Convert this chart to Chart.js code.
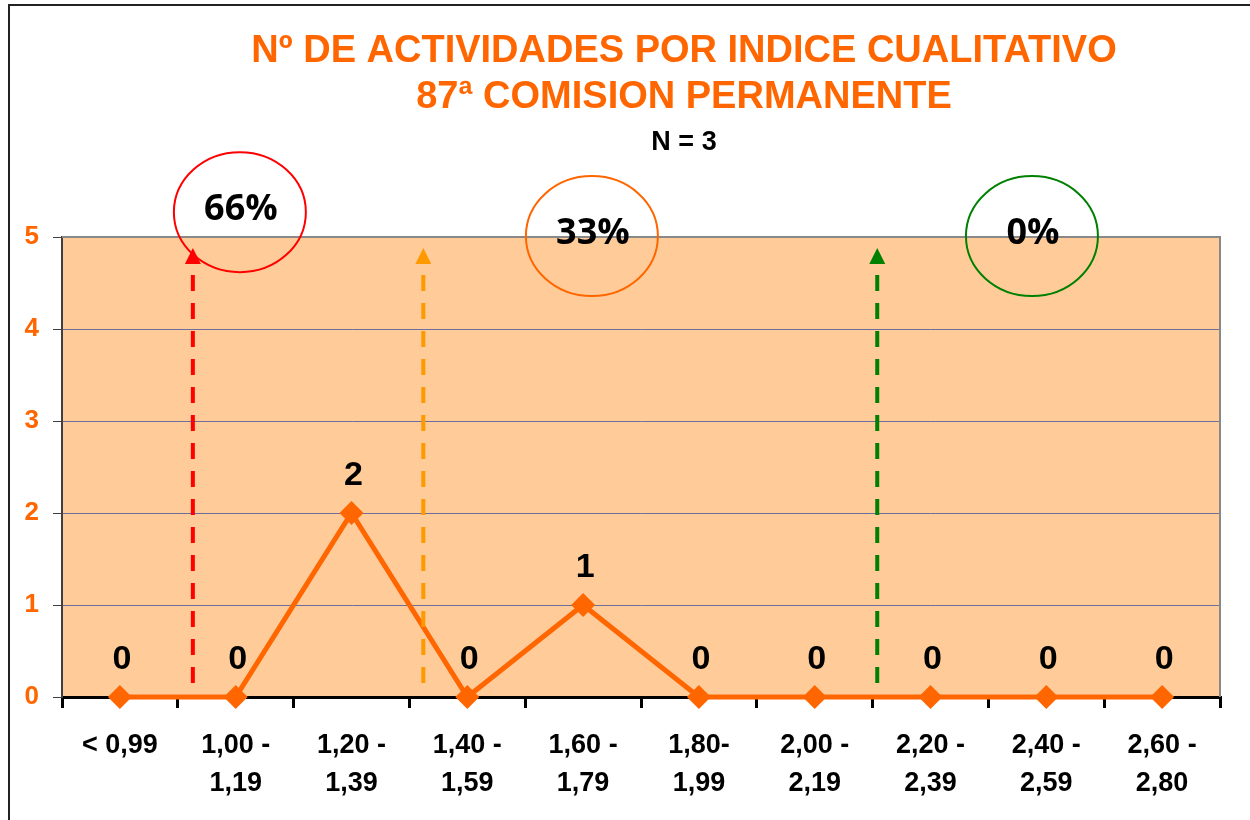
<!DOCTYPE html>
<html>
<head>
<meta charset="utf-8">
<script src="https://cdn.jsdelivr.net/npm/chart.js@4/dist/chart.umd.min.js"></script>
<style>
  html, body { margin: 0; padding: 0; background: #fff; }
  #wrap { width: 1250px; height: 820px; }
</style>
</head>
<body>
<div id="wrap"><canvas id="chart" width="1250" height="820"></canvas></div>
<script>
// datos
const titleLines = ["Nº DE ACTIVIDADES POR INDICE CUALITATIVO", "87ª COMISION PERMANENTE"];
const subtitle = "N = 3";
const categories = [
  "< 0,99",
  ["1,00 -", "1,19"],
  ["1,20 -", "1,39"],
  ["1,40 -", "1,59"],
  ["1,60 -", "1,79"],
  ["1,80-", "1,99"],
  ["2,00 -", "2,19"],
  ["2,20 -", "2,39"],
  ["2,40 -", "2,59"],
  ["2,60 -", "2,80"]
];
const activityCounts = [0, 0, 2, 0, 1, 0, 0, 0, 0, 0];
const yMin = 0;
const yMax = 5;
const bandShares = ["66%", "33%", "0%"];

const ORANGE = "#FF6600";
const FONT = "'Liberation Sans', Arial, sans-serif";

// flechas y circulos (posicion en unidades de los ejes)
const arrows = [
  { x: 0.63, color: "#FF0000" },
  { x: 2.62, color: "#FF9900" },
  { x: 6.54, color: "#008000" }
];
const bubbles = [
  { x: 1.036, y: 5.27, color: "#FF0000" },
  { x: 4.076, y: 5.01, color: "#FF6600" },
  { x: 7.876, y: 5.01, color: "#008000" }
];

const overlay = {
  id: "overlay",
  beforeDraw(chart) {
    const { ctx, chartArea: a } = chart;
    ctx.save();
    ctx.fillStyle = "#fff";
    ctx.fillRect(0, 0, chart.width, chart.height);
    ctx.fillStyle = "#FFCC99";
    ctx.fillRect(a.left, a.top, a.right - a.left, a.bottom - a.top);
    ctx.restore();
  },
  afterDraw(chart) {
    const { ctx, chartArea: a } = chart;
    const xs = chart.scales.x, ys = chart.scales.y;
    ctx.save();

    // borde gris superior y derecho del area
    ctx.strokeStyle = "#888";
    ctx.lineWidth = 2;
    ctx.beginPath();
    ctx.moveTo(a.left, a.top);
    ctx.lineTo(a.right, a.top);
    ctx.lineTo(a.right, a.bottom);
    ctx.stroke();

    // etiquetas de datos
    const meta = chart.getDatasetMeta(0);
    ctx.fillStyle = "#000";
    ctx.font = "bold 34px " + FONT;
    ctx.textAlign = "center";
    ctx.textBaseline = "alphabetic";
    meta.data.forEach((pt, i) => {
      ctx.fillText(String(activityCounts[i]), pt.x + 2, pt.y - 28);
    });

    // flechas discontinuas
    arrows.forEach(ar => {
      const x = xs.getPixelForValue(ar.x);
      const tip = ys.getPixelForValue(4.88);
      const bottom = ys.getPixelForValue(0.13);
      ctx.strokeStyle = ar.color;
      ctx.fillStyle = ar.color;
      ctx.lineWidth = 4;
      ctx.setLineDash([16, 12]);
      ctx.beginPath();
      ctx.moveTo(x, tip + 27);
      ctx.lineTo(x, bottom);
      ctx.stroke();
      ctx.setLineDash([]);
      ctx.beginPath();
      ctx.moveTo(x, tip);
      ctx.lineTo(x - 8, tip + 16);
      ctx.lineTo(x + 8, tip + 16);
      ctx.closePath();
      ctx.fill();
    });

    // circulos con porcentajes
    bubbles.forEach((b, i) => {
      const cx = xs.getPixelForValue(b.x);
      const cy = ys.getPixelForValue(b.y);
      ctx.strokeStyle = b.color;
      ctx.lineWidth = 2;
      ctx.beginPath();
      ctx.ellipse(cx, cy, 66, 60, 0, 0, Math.PI * 2);
      ctx.stroke();
      ctx.fillStyle = "#000";
      ctx.font = "bold 36px 'Open Sans', sans-serif";
      ctx.fillText(bandShares[i], cx + 1, cy + 8);
    });

    // titulo
    ctx.fillStyle = ORANGE;
    ctx.font = "bold 38px " + FONT;
    ctx.fillText(titleLines[0], 684, 62);
    ctx.fillText(titleLines[1], 684, 108);
    ctx.fillStyle = "#000";
    ctx.font = "bold 27px " + FONT;
    ctx.fillText(subtitle, 684, 150);

    // marco exterior
    ctx.strokeStyle = "#222";
    ctx.lineWidth = 2;
    ctx.beginPath();
    ctx.moveTo(9, chart.height);
    ctx.lineTo(9, 5);
    ctx.lineTo(chart.width, 5);
    ctx.stroke();
    ctx.restore();
  }
};

const chart = new Chart(document.getElementById("chart"), {
  type: "line",
  data: {
    labels: categories,
    datasets: [{
      data: activityCounts,
      borderColor: ORANGE,
      backgroundColor: ORANGE,
      borderWidth: 5,
      pointStyle: "rectRot",
      pointRadius: 12,
      pointHoverRadius: 12,
      pointBackgroundColor: ORANGE,
      pointBorderWidth: 0,
      tension: 0,
      clip: false
    }]
  },
  options: {
    responsive: false,
    animation: false,
    events: [],
    layout: { padding: { left: 0, right: 30, top: 237, bottom: 0 } },
    plugins: {
      legend: { display: false },
      tooltip: { enabled: false },
      title: { display: false }
    },
    scales: {
      x: {
        type: "category",
        offset: true,
        afterFit(scale) { scale.height = 123; },
        grid: {
          offset: true,
          drawOnChartArea: false,
          drawTicks: true,
          tickLength: 11,
          color: "#000",
          lineWidth: 3
        },
        border: { color: "#000", width: 3 },
        ticks: {
          autoSkip: false,
          maxRotation: 0,
          padding: 19,
          color: "#000",
          font: { family: FONT, size: 27, weight: "bold", lineHeight: 1.4 }
        }
      },
      y: {
        min: yMin,
        max: yMax,
        afterFit(scale) { scale.width = 62; },
        grid: {
          color: "#6E6E9E",
          lineWidth: 1,
          tickLength: 9,
          tickColor: "#404040"
        },
        border: { color: "#404040", width: 2 },
        ticks: {
          stepSize: 1,
          padding: 14,
          color: ORANGE,
          font: { family: FONT, size: 26, weight: "bold" }
        }
      }
    }
  },
  plugins: [overlay]
});
</script>
</body>
</html>
